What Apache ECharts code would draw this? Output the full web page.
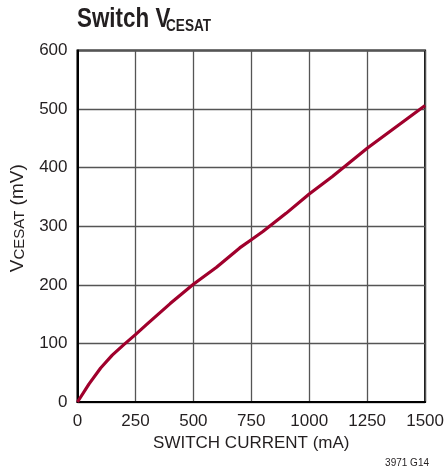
<!DOCTYPE html>
<html>
<head>
<meta charset="utf-8">
<script src="https://cdn.jsdelivr.net/npm/echarts@6/dist/echarts.min.js"></script>
<style>html,body{margin:0;padding:0;background:#fff;}#c{width:447px;height:474px;}</style>
</head>
<body>
<div id="c"></div>
<script>
var currentMA = [0, 50, 100, 150, 200, 250, 300, 400, 500, 600, 700, 750, 800, 900, 1000, 1100, 1250, 1500];
var vcesatMV  = [0, 31, 58, 80, 98, 115, 133, 168, 201, 230, 263, 277, 291, 322, 355, 385, 433, 506];
var xTicks = [0, 250, 500, 750, 1000, 1250, 1500];
var yTicks = [0, 100, 200, 300, 400, 500, 600];

var FONT = '"Liberation Sans",Arial,sans-serif';
var INK = '#231f20';
var chart = echarts.init(document.getElementById('c'), null, {renderer: 'canvas'});
var pts = currentMA.map(function (x, i) { return [x, vcesatMV[i]]; });

chart.setOption({
  animation: false,
  backgroundColor: '#fff',
  grid: {left: 77.5, right: 18, top: 50.5, bottom: 72, show: true, borderColor: '#000', borderWidth: 2, backgroundColor: 'transparent'},
  xAxis: {
    type: 'value', min: xTicks[0], max: xTicks[xTicks.length - 1], interval: 250,
    name: 'SWITCH CURRENT (mA)', nameLocation: 'middle', nameGap: 33,
    nameTextStyle: {fontFamily: FONT, fontSize: 17, color: INK},
    axisLine: {show: true, lineStyle: {color: '#000', width: 2}},
    axisTick: {show: false},
    axisLabel: {fontFamily: FONT, fontSize: 17, color: INK, margin: 11, formatter: function (v) { return String(v); }},
    splitLine: {show: true, lineStyle: {color: '#555', width: 1.3}}
  },
  yAxis: {
    type: 'value', min: yTicks[0], max: yTicks[yTicks.length - 1], interval: 100,
    name: '{a|V}{b|CESAT}{a| (mV)}', nameLocation: 'middle', nameGap: 50,
    nameTextStyle: {
      padding: [0, 0, 0, 16],
      rich: {
        a: {fontFamily: FONT, fontSize: 19, color: INK, lineHeight: 22, verticalAlign: 'bottom'},
        b: {fontFamily: FONT, fontSize: 15, color: INK, lineHeight: 11, verticalAlign: 'bottom'}
      }
    },
    axisLine: {show: true, lineStyle: {color: '#000', width: 2}},
    axisTick: {show: false},
    axisLabel: {fontFamily: FONT, fontSize: 17, color: INK, margin: 10},
    splitLine: {show: true, lineStyle: {color: '#555', width: 1.3}}
  },
  graphic: [
    {type: 'text', x: 77, y: 5, scaleX: 0.8, scaleY: 1,
     style: {x: 0, y: 0, text: 'Switch V', font: 'bold 28px ' + FONT, fill: INK, verticalAlign: 'top'}},
    {type: 'text', x: 166, y: 18, scaleX: 0.8, scaleY: 1,
     style: {x: 0, y: 0, text: 'CESAT', font: 'bold 17px ' + FONT, fill: INK, verticalAlign: 'top'}},
    {type: 'text', right: 18, top: 458,
     style: {text: '3971 G14', font: '10px ' + FONT, fill: INK}}
  ],
  series: [{
    type: 'line', data: pts, smooth: false, showSymbol: false,
    lineStyle: {color: '#a0002c', width: 3.2, join: 'round'}
  }]
});
</script>
</body>
</html>
